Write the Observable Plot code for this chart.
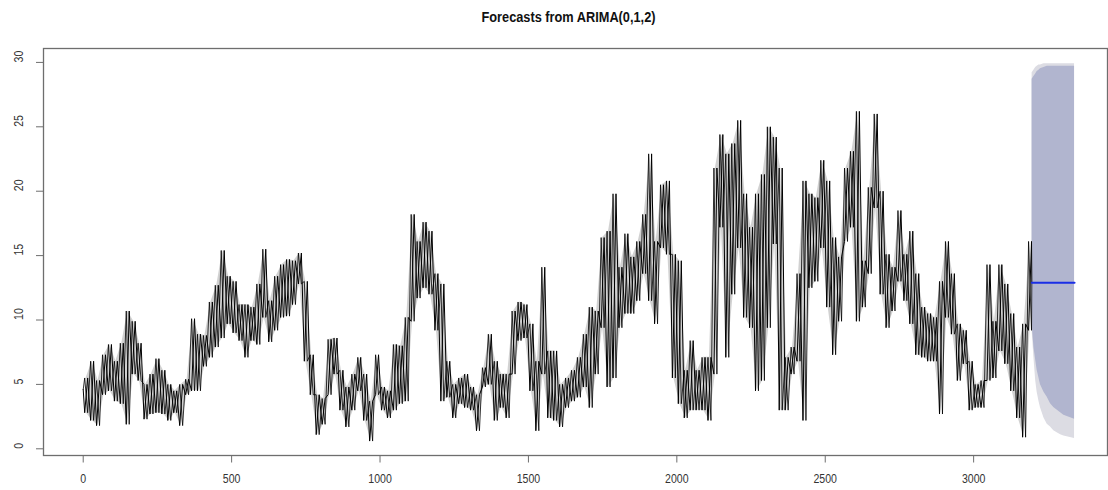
<!DOCTYPE html>
<html><head><meta charset="utf-8">
<script src="https://cdn.jsdelivr.net/npm/d3@7"></script>
<script src="https://cdn.jsdelivr.net/npm/@observablehq/plot@0.6"></script>
<style>html,body{margin:0;padding:0;background:#fff;} svg{display:block}</style>
</head><body><div id="chart"></div>
<script>
const title = "Forecasts from ARIMA(0,1,2)";

// observed series, read as low/high envelope per 20-step bin (t = 0 .. 3196)
const binWidth = 20;
const seriesHigh = [
  5.5,6.8,5.3,7.3,8.1,6.8,8.2,10.7,9.9,8.2, 5.0,5.8,7.0,6.1,5.0,4.5,5.0,5.4,10.1,8.9,
  8.8,11.4,12.7,15.4,13.4,13.0,11.2,11.2,11.0,12.8, 15.5,11.5,13.4,14.3,14.7,14.6,15.2,13.0,7.3,4.2,
  3.9,8.5,8.6,6.1,4.8,5.8,7.1,5.8,3.7,7.3, 4.8,4.5,8.1,8.0,10.2,18.2,16.1,17.6,16.9,13.6,
  12.8,6.8,5.0,5.5,5.8,4.8,4.2,6.3,8.9,6.8, 5.8,5.8,10.7,11.4,11.2,9.7,6.8,14.1,7.6,7.6,
  5.0,5.5,6.1,7.1,8.9,11.0,10.7,16.4,16.9,19.8, 14.1,16.7,14.9,16.1,18.2,22.9,16.1,20.5,20.8,15.1,
  14.6,6.1,8.4,6.1,7.1,7.1,21.8,24.4,22.9,23.7, 25.5,19.8,17.2,19.8,21.3,25.0,24.2,21.8,7.1,7.9,
  13.6,20.8,19.8,19.5,22.4,20.8,16.4,14.9,21.8,23.1, 26.2,14.6,20.3,26.0,20.0,15.1,14.1,18.5,15.1,16.9,
  13.6,11.0,10.5,10.2,13.0,16.1,13.6,9.7,9.2,6.8, 5.0,5.3,14.3,9.9,14.3,12.8,10.5,7.9,9.7,16.1
];
const seriesLow = [
  2.8,2.2,1.8,4.2,4.5,3.7,3.5,1.9,5.8,5.3, 2.3,2.7,2.8,2.7,2.2,2.8,1.8,4.2,4.5,4.5,
  6.4,7.1,7.9,8.6,9.7,9.0,8.4,7.1,8.4,8.1, 10.2,8.3,9.2,10.2,10.3,11.2,12.8,6.8,4.2,1.1,
  1.9,4.2,5.8,3.0,1.7,3.0,4.5,2.2,0.6,4.2, 3.0,2.4,3.0,3.5,3.7,9.9,11.7,12.5,12.0,9.2,
  3.7,4.0,2.4,3.5,3.2,3.0,1.4,4.8,5.0,2.2, 3.2,2.4,5.8,8.4,8.6,4.5,1.4,5.8,2.4,2.2,
  1.7,3.2,3.7,4.0,4.8,3.2,5.8,9.4,4.8,5.5, 9.4,10.5,10.5,11.5,13.6,11.5,9.7,15.6,15.1,5.5,
  3.5,2.4,3.0,3.0,3.0,2.2,5.8,17.2,7.1,12.0, 15.6,10.2,9.4,4.5,5.3,9.4,15.9,3.0,3.0,5.8,
  6.8,2.2,12.5,13.0,15.6,11.0,7.3,9.9,16.1,17.2, 9.9,11.0,13.6,18.7,12.0,9.4,10.7,13.0,11.5,9.7,
  7.3,7.1,6.8,6.8,2.7,10.2,8.9,5.3,6.6,3.0, 3.2,3.2,5.3,5.5,7.6,6.6,4.5,2.4,0.9,9.2
];
const firstTime = 0, firstValue = 4.6;
const lastTime = 3196, lastValue = 12.9;

// forecast
const fcTime = [3197,3203,3209,3214,3220,3225,3237,3248,3259,3270,3293,3304,3340];
const fcMean = [12.9,12.9,12.9,12.9,12.9,12.9,12.9,12.9,12.9,12.9,12.9,12.9,12.9];
const fcLo80 = [9.7,7.9,6.9,6.1,5.5,5.0,4.4,4.0,3.5,3.2,2.8,2.6,2.3];
const fcHi80 = [28.7,28.9,29.1,29.3,29.4,29.5,29.6,29.7,29.7,29.7,29.7,29.7,29.7];
const fcLo95 = [9.2,7.1,5.3,4.4,3.7,3.2,2.4,1.9,1.7,1.4,1.1,1.0,0.8];
const fcHi95 = [29.2,29.4,29.6,29.7,29.8,29.8,29.9,29.9,29.9,29.9,29.9,29.9,29.9];

const xTicks = [0,500,1000,1500,2000,2500,3000];
const yTicks = [0,5,10,15,20,25,30];

// two traversals of the same envelope (low→high and high→low in each bin)
const seriesA = [{t:firstTime, v:firstValue}];
const seriesB = [{t:firstTime, v:firstValue}];
seriesLow.forEach((lo,k)=>{
  const hi = seriesHigh[k];
  seriesA.push({t:k*binWidth+5, v:lo}, {t:k*binWidth+15, v:hi});
  seriesB.push({t:k*binWidth+5, v:hi}, {t:k*binWidth+15, v:lo});
});
seriesA.push({t:lastTime, v:lastValue});
seriesB.push({t:lastTime, v:lastValue});
const envelope = seriesLow.map((lo,k)=>({t:k*binWidth+10, lo, hi:seriesHigh[k]}));

const fc = fcTime.map((t,i)=>({t, mean:fcMean[i], lo80:fcLo80[i], hi80:fcHi80[i], lo95:fcLo95[i], hi95:fcHi95[i]}));
const meanLine = [{t:lastTime, v:lastValue}, ...fc.map(d=>({t:d.t, v:d.mean}))];

const font = "'Liberation Sans',Arial,sans-serif";
const plot = Plot.plot({
  width:1108, height:490,
  marginLeft:43, marginRight:1, marginTop:48, marginBottom:35,
  x:{domain:[-133.8,3451], axis:null},
  y:{domain:[-0.52,31.08], axis:null},
  style:{fontFamily:font, background:"#fff", overflow:"visible"},
  marks:[
    Plot.areaY(fc,{x:"t", y1:"lo95", y2:"hi95", fill:"#dcdce3"}),
    Plot.areaY(fc,{x:"t", y1:"lo80", y2:"hi80", fill:"#b1b5cf"}),
    Plot.areaY(envelope,{x:"t", y1:"lo", y2:"hi", fill:"#000", fillOpacity:0.18}),
    Plot.line(seriesB,{x:"t", y:"v", stroke:"#000", strokeWidth:0.8}),
    Plot.line(seriesA,{x:"t", y:"v", stroke:"#000", strokeWidth:1}),
    Plot.line(meanLine,{x:"t", y:"v", stroke:"#1a2ee6", strokeWidth:2}),
    Plot.frame({stroke:"#6e6e6e", strokeWidth:1.3}),
    Plot.axisX({ticks:xTicks, tickSize:7.5, tickPadding:11, stroke:"#6e6e6e", fill:"#333", fontSize:12, label:null, tickFormat:d=>String(d)}),
    Plot.axisY({ticks:yTicks, tickSize:7, tickFormat:()=>"", label:null, stroke:"#6e6e6e"}),
    Plot.text(yTicks,{y:d=>d, text:d=>String(d), frameAnchor:"left", dx:-24, rotate:-90, fontSize:12, fill:"#333"}),
    Plot.text([title],{frameAnchor:"top", dy:-37, dx:-7, fontWeight:"bold", fontSize:14.5, fill:"#111"})
  ]
});
document.getElementById("chart").appendChild(plot);
// narrow the glyphs like the reference's condensed text
d3.select(plot).selectAll("text").each(function(){
  const w = this.getComputedTextLength();
  if (w > 0) {
    this.setAttribute("textLength", (w*0.88).toFixed(1));
    this.setAttribute("lengthAdjust", "spacingAndGlyphs");
  }
});
</script>
</body></html>
